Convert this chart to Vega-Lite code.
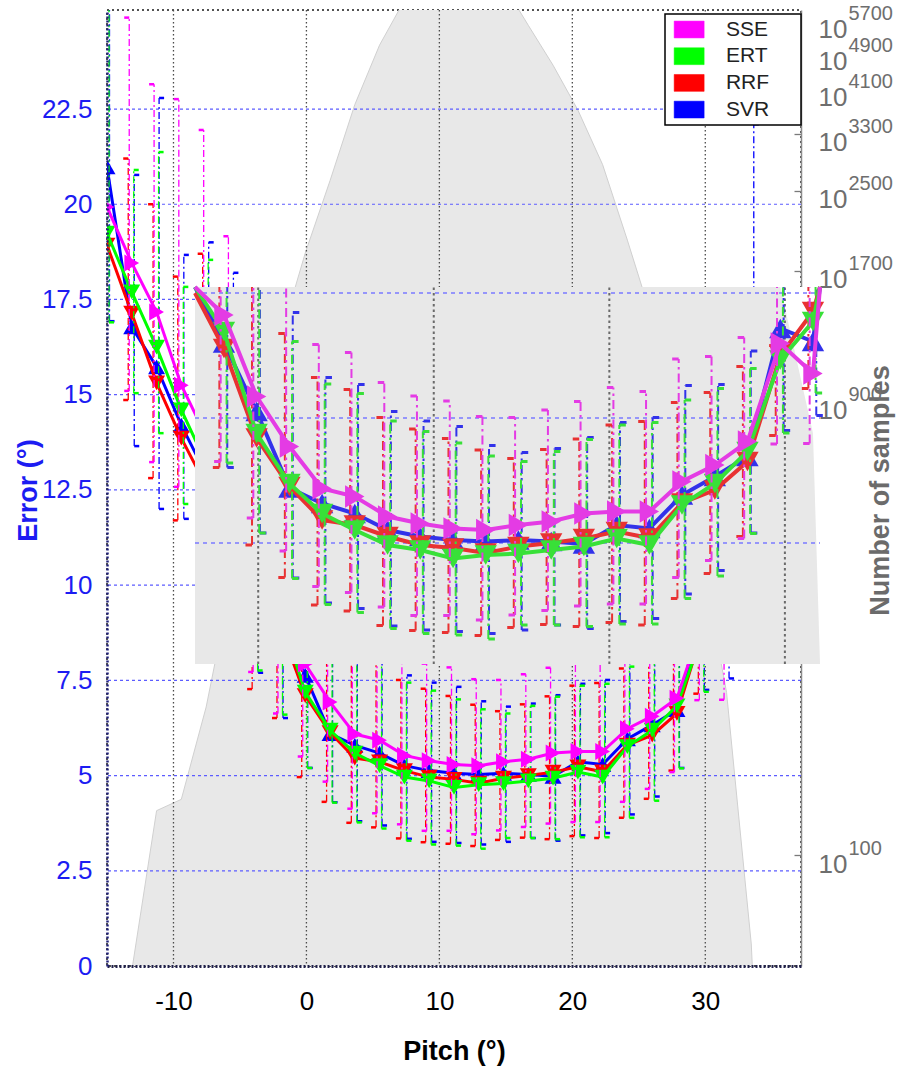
{
  "$schema": "https://vega.github.io/schema/vega-lite/v6.json",
  "width": 694,
  "height": 956,
  "autosize": {"type": "none"},
  "padding": {"left": 107, "top": 10, "right": 105, "bottom": 102},
  "background": "#ffffff",
  "config": {
    "font": "Liberation Sans",
    "view": {"stroke": "#1a1a1a", "strokeDash": [2, 3], "strokeWidth": 1.5},
    "axis": {"grid": false, "labelFont": "Liberation Sans", "titleFont": "Liberation Sans", "labelFlush": false, "labelOverlap": false},
    "axisLeft": {"labelColor": "#1c1cf2", "labelFontSize": 26, "labelPadding": 15, "ticks": false, "domainColor": "#20207a", "domainDash": [2, 2], "domainWidth": 2.5, "titleColor": "#1c1cf2", "titleFontSize": 27, "titleFontWeight": "bold", "titleX": -79, "titleY": 480, "titleAlign": "center", "titleBaseline": "middle", "titleAngle": 270},
    "axisBottom": {"labelColor": "#000000", "labelFontSize": 26, "labelPadding": 22, "ticks": false, "domainColor": "#20204a", "domainDash": [2, 2], "domainWidth": 3, "titleColor": "#000000", "titleFontSize": 27, "titleFontWeight": "bold", "titleY": 85, "titleBaseline": "middle"},
    "axisRight": {"labelColor": "#6e6e6e", "labelFontSize": 26, "labelPadding": 24, "labelOffset": 9, "tickColor": "#7a7a7a", "tickSize": -7, "tickWidth": 1.3, "domainColor": "#8a8a8a", "domainWidth": 1.5, "titleColor": "#6b6b6b", "titleFontSize": 27, "titleFontWeight": "bold", "titleX": 79, "titleY": 480, "titleAlign": "center", "titleBaseline": "middle", "titleAngle": 270}
  },
  "datasets": {
    "gx": [{"p": -10}, {"p": 0}, {"p": 10}, {"p": 20}, {"p": 30}],
    "gy": [{"v": 2.5}, {"v": 5}, {"v": 7.5}, {"v": 10}, {"v": 12.5}, {"v": 15}, {"v": 17.5}, {"v": 20}, {"v": 22.5}],
    "igx": [{"p": 0}, {"p": 10}, {"p": 20}, {"p": 30}],
    "igy": [{"v": 5}, {"v": 7.5}, {"v": 10}],
    "hist": [
      {"p": -15, "n": 10}, {"p": -13.14, "n": 57}, {"p": -11.27, "n": 124}, {"p": -9.41, "n": 131},
      {"p": -7.54, "n": 205}, {"p": -5.68, "n": 373}, {"p": -3.82, "n": 676}, {"p": -1.95, "n": 1230},
      {"p": -0.09, "n": 1850}, {"p": 1.78, "n": 2630}, {"p": 3.64, "n": 3800}, {"p": 5.5, "n": 5070},
      {"p": 7.37, "n": 6300}, {"p": 9.23, "n": 9000}, {"p": 11.1, "n": 10500}, {"p": 12.96, "n": 10000},
      {"p": 14.82, "n": 6800}, {"p": 16.69, "n": 5580}, {"p": 18.55, "n": 4600}, {"p": 20.42, "n": 3700},
      {"p": 22.28, "n": 2840}, {"p": 24.14, "n": 1970}, {"p": 26.01, "n": 1340}, {"p": 27.87, "n": 750},
      {"p": 29.74, "n": 420}, {"p": 31.6, "n": 220}, {"p": 33.46, "n": 65}, {"p": 35.33, "n": 5}, {"p": 37.19, "n": 2}
    ],
    "err": [
      {"m": "SSE", "p": -15, "v": 19.93, "lo": 16.5, "hi": 26},
      {"m": "SSE", "p": -13.14, "v": 18.46, "lo": 15.1, "hi": 24.9},
      {"m": "SSE", "p": -11.27, "v": 17.17, "lo": 13.23, "hi": 23.15},
      {"m": "SSE", "p": -9.41, "v": 15.25, "lo": 12.58, "hi": 22.76},
      {"m": "SSE", "p": -7.54, "v": 13.9, "lo": 11, "hi": 21.95},
      {"m": "SSE", "p": -5.68, "v": 12.5, "lo": 9.5, "hi": 19.16},
      {"m": "SSE", "p": -3.82, "v": 11, "lo": 7.72, "hi": 16},
      {"m": "SSE", "p": -1.95, "v": 9.56, "lo": 6.63, "hi": 13.5},
      {"m": "SSE", "p": -0.09, "v": 7.93, "lo": 5.5, "hi": 11.4},
      {"m": "SSE", "p": 1.78, "v": 6.93, "lo": 4.84, "hi": 10.6},
      {"m": "SSE", "p": 3.64, "v": 6.09, "lo": 4.13, "hi": 8.97},
      {"m": "SSE", "p": 5.5, "v": 5.93, "lo": 4.01, "hi": 8.81},
      {"m": "SSE", "p": 7.37, "v": 5.53, "lo": 3.72, "hi": 8.21},
      {"m": "SSE", "p": 9.23, "v": 5.39, "lo": 3.55, "hi": 7.94},
      {"m": "SSE", "p": 11.1, "v": 5.29, "lo": 3.55, "hi": 7.84},
      {"m": "SSE", "p": 12.96, "v": 5.26, "lo": 3.46, "hi": 7.53},
      {"m": "SSE", "p": 14.82, "v": 5.36, "lo": 3.56, "hi": 7.51},
      {"m": "SSE", "p": 16.69, "v": 5.43, "lo": 3.65, "hi": 7.66},
      {"m": "SSE", "p": 18.55, "v": 5.59, "lo": 3.74, "hi": 7.83},
      {"m": "SSE", "p": 20.42, "v": 5.63, "lo": 3.78, "hi": 8.11},
      {"m": "SSE", "p": 22.28, "v": 5.63, "lo": 3.78, "hi": 8.03},
      {"m": "SSE", "p": 24.14, "v": 6.23, "lo": 4.31, "hi": 8.68},
      {"m": "SSE", "p": 26.01, "v": 6.56, "lo": 4.65, "hi": 8.73},
      {"m": "SSE", "p": 27.87, "v": 7.03, "lo": 5.09, "hi": 9.11},
      {"m": "SSE", "p": 29.74, "v": 8.99, "lo": 6.98, "hi": 11.5},
      {"m": "SSE", "p": 31.6, "v": 8.39, "lo": 6.99, "hi": 11},
      {"m": "SSE", "p": 33.46, "v": 10.5, "lo": 8.2, "hi": 14.5},
      {"m": "SSE", "p": 35.33, "v": 11.8, "lo": 8.8, "hi": 16},
      {"m": "SSE", "p": 37.19, "v": 12.8, "lo": 9.5, "hi": 17},
      {"m": "ERT", "p": -15, "v": 19.24, "lo": 16.9, "hi": 26},
      {"m": "ERT", "p": -13.14, "v": 17.7, "lo": 15.04, "hi": 20.9},
      {"m": "ERT", "p": -11.27, "v": 16.25, "lo": 13.99, "hi": 21.37},
      {"m": "ERT", "p": -9.41, "v": 14.6, "lo": 12.13, "hi": 17.83},
      {"m": "ERT", "p": -7.54, "v": 13.2, "lo": 10.8, "hi": 18.54},
      {"m": "ERT", "p": -5.68, "v": 11.8, "lo": 9, "hi": 16.8},
      {"m": "ERT", "p": -3.82, "v": 10.5, "lo": 7.76, "hi": 15},
      {"m": "ERT", "p": -1.95, "v": 9.23, "lo": 6.6, "hi": 12.8},
      {"m": "ERT", "p": -0.09, "v": 7.19, "lo": 5.2, "hi": 10.8},
      {"m": "ERT", "p": 1.78, "v": 6.19, "lo": 4.29, "hi": 9.03},
      {"m": "ERT", "p": 3.64, "v": 5.59, "lo": 3.77, "hi": 8.18},
      {"m": "ERT", "p": 5.5, "v": 5.26, "lo": 3.61, "hi": 7.99},
      {"m": "ERT", "p": 7.37, "v": 4.96, "lo": 3.29, "hi": 7.44},
      {"m": "ERT", "p": 9.23, "v": 4.86, "lo": 3.19, "hi": 7.23},
      {"m": "ERT", "p": 11.1, "v": 4.69, "lo": 3.16, "hi": 7},
      {"m": "ERT", "p": 12.96, "v": 4.76, "lo": 3.08, "hi": 6.74},
      {"m": "ERT", "p": 14.82, "v": 4.79, "lo": 3.36, "hi": 6.63},
      {"m": "ERT", "p": 16.69, "v": 4.86, "lo": 3.36, "hi": 6.83},
      {"m": "ERT", "p": 18.55, "v": 4.93, "lo": 3.33, "hi": 7.07},
      {"m": "ERT", "p": 20.42, "v": 5.09, "lo": 3.38, "hi": 7.36},
      {"m": "ERT", "p": 22.28, "v": 4.96, "lo": 3.38, "hi": 7.41},
      {"m": "ERT", "p": 24.14, "v": 5.76, "lo": 3.89, "hi": 7.86},
      {"m": "ERT", "p": 26.01, "v": 6.19, "lo": 4.34, "hi": 8.09},
      {"m": "ERT", "p": 27.87, "v": 6.83, "lo": 5.19, "hi": 8.49},
      {"m": "ERT", "p": 29.74, "v": 8.66, "lo": 7.2, "hi": 11},
      {"m": "ERT", "p": 31.6, "v": 9.43, "lo": 8, "hi": 12},
      {"m": "ERT", "p": 33.46, "v": 11, "lo": 8.5, "hi": 15},
      {"m": "ERT", "p": 35.33, "v": 12.3, "lo": 9, "hi": 16.5},
      {"m": "ERT", "p": 37.19, "v": 13.5, "lo": 9.8, "hi": 17.2},
      {"m": "RRF", "p": -15, "v": 18.93, "lo": 16.5, "hi": 22},
      {"m": "RRF", "p": -13.14, "v": 17.14, "lo": 14.86, "hi": 21.2},
      {"m": "RRF", "p": -11.27, "v": 15.31, "lo": 12.81, "hi": 20},
      {"m": "RRF", "p": -9.41, "v": 13.86, "lo": 11.7, "hi": 18.1},
      {"m": "RRF", "p": -7.54, "v": 12.6, "lo": 10.3, "hi": 18.7},
      {"m": "RRF", "p": -5.68, "v": 11.3, "lo": 8.8, "hi": 16.5},
      {"m": "RRF", "p": -3.82, "v": 10, "lo": 7.27, "hi": 14.5},
      {"m": "RRF", "p": -1.95, "v": 8.89, "lo": 6.51, "hi": 12.5},
      {"m": "RRF", "p": -0.09, "v": 7.1, "lo": 4.96, "hi": 10.5},
      {"m": "RRF", "p": 1.78, "v": 6.13, "lo": 4.31, "hi": 9.19},
      {"m": "RRF", "p": 3.64, "v": 5.46, "lo": 3.76, "hi": 8.31},
      {"m": "RRF", "p": 5.5, "v": 5.36, "lo": 3.64, "hi": 8.07},
      {"m": "RRF", "p": 7.37, "v": 5.13, "lo": 3.35, "hi": 7.51},
      {"m": "RRF", "p": 9.23, "v": 4.96, "lo": 3.25, "hi": 7.28},
      {"m": "RRF", "p": 11.1, "v": 4.9, "lo": 3.21, "hi": 7.09},
      {"m": "RRF", "p": 12.96, "v": 4.8, "lo": 3.15, "hi": 6.86},
      {"m": "RRF", "p": 14.82, "v": 4.93, "lo": 3.31, "hi": 6.69},
      {"m": "RRF", "p": 16.69, "v": 5, "lo": 3.37, "hi": 6.87},
      {"m": "RRF", "p": 18.55, "v": 5.09, "lo": 3.33, "hi": 7.08},
      {"m": "RRF", "p": 20.42, "v": 5.23, "lo": 3.41, "hi": 7.36},
      {"m": "RRF", "p": 22.28, "v": 5.1, "lo": 3.36, "hi": 7.43},
      {"m": "RRF", "p": 24.14, "v": 5.8, "lo": 3.89, "hi": 7.81},
      {"m": "RRF", "p": 26.01, "v": 6.06, "lo": 4.39, "hi": 8.01},
      {"m": "RRF", "p": 27.87, "v": 6.63, "lo": 5.13, "hi": 8.53},
      {"m": "RRF", "p": 29.74, "v": 8.75, "lo": 7.15, "hi": 8.95},
      {"m": "RRF", "p": 31.6, "v": 9.63, "lo": 8.09, "hi": 12},
      {"m": "RRF", "p": 33.46, "v": 11.5, "lo": 8.6, "hi": 15.5},
      {"m": "RRF", "p": 35.33, "v": 12.8, "lo": 9.2, "hi": 16.8},
      {"m": "RRF", "p": 37.19, "v": 13.9, "lo": 10, "hi": 17.5},
      {"m": "SVR", "p": -15, "v": 20.98, "lo": 16.93, "hi": 25.8},
      {"m": "SVR", "p": -13.14, "v": 16.78, "lo": 13.65, "hi": 20.77},
      {"m": "SVR", "p": -11.27, "v": 15.73, "lo": 12, "hi": 22.79},
      {"m": "SVR", "p": -9.41, "v": 14.2, "lo": 11.74, "hi": 18.67},
      {"m": "SVR", "p": -7.54, "v": 12.9, "lo": 10.3, "hi": 19},
      {"m": "SVR", "p": -5.68, "v": 11.5, "lo": 8.7, "hi": 18.2},
      {"m": "SVR", "p": -3.82, "v": 10.2, "lo": 7.7, "hi": 15.5},
      {"m": "SVR", "p": -1.95, "v": 9, "lo": 6.51, "hi": 12},
      {"m": "SVR", "p": -0.09, "v": 7.63, "lo": 5.2, "hi": 11},
      {"m": "SVR", "p": 1.78, "v": 6.1, "lo": 4.3, "hi": 9.61},
      {"m": "SVR", "p": 3.64, "v": 5.79, "lo": 3.8, "hi": 8.31},
      {"m": "SVR", "p": 5.5, "v": 5.59, "lo": 3.69, "hi": 8.17},
      {"m": "SVR", "p": 7.37, "v": 5.26, "lo": 3.34, "hi": 7.63},
      {"m": "SVR", "p": 9.23, "v": 5.13, "lo": 3.26, "hi": 7.44},
      {"m": "SVR", "p": 11.1, "v": 5.06, "lo": 3.23, "hi": 7.33},
      {"m": "SVR", "p": 12.96, "v": 5.03, "lo": 3.19, "hi": 6.95},
      {"m": "SVR", "p": 14.82, "v": 5.06, "lo": 3.26, "hi": 6.81},
      {"m": "SVR", "p": 16.69, "v": 5.03, "lo": 3.36, "hi": 6.89},
      {"m": "SVR", "p": 18.55, "v": 4.98, "lo": 3.29, "hi": 7.11},
      {"m": "SVR", "p": 20.42, "v": 5.36, "lo": 3.43, "hi": 7.41},
      {"m": "SVR", "p": 22.28, "v": 5.29, "lo": 3.49, "hi": 7.51},
      {"m": "SVR", "p": 24.14, "v": 5.96, "lo": 3.98, "hi": 8.15},
      {"m": "SVR", "p": 26.01, "v": 6.33, "lo": 4.45, "hi": 8.17},
      {"m": "SVR", "p": 27.87, "v": 6.73, "lo": 5.2, "hi": 8.84},
      {"m": "SVR", "p": 29.74, "v": 9.29, "lo": 7.25, "hi": 11.8},
      {"m": "SVR", "p": 31.6, "v": 9.03, "lo": 7.55, "hi": 11.5},
      {"m": "SVR", "p": 33.46, "v": 12, "lo": 9, "hi": 22.1},
      {"m": "SVR", "p": 35.33, "v": 12.5, "lo": 9.3, "hi": 16.5},
      {"m": "SVR", "p": 37.19, "v": 13.2, "lo": 9.8, "hi": 17}
    ]
  },
  "layer": [
    {
      "resolve": {"scale": {"y": "independent"}},
      "layer": [
        {
          "data": {"name": "hist"},
          "mark": {"type": "area", "color": "#e8e8e8", "clip": true},
          "encoding": {
            "x": {"field": "p", "type": "quantitative", "scale": {"domain": [-15, 37.2], "nice": false, "zero": false}, "title": "Pitch (°)"},
            "y": {"field": "n", "type": "quantitative", "scale": {"type": "log", "domain": [58.4, 6011], "nice": false}, "title": "Number of samples",
              "axis": {"orient": "right", "values": [100, 900, 1700, 2500, 3300, 4100, 4900, 5700], "labelExpr": "'10'"}},
            "y2": {"datum": 1}
          }
        },
        {
          "data": {"name": "hist"},
          "mark": {"type": "line", "color": "#d0d0d0", "strokeWidth": 1, "clip": true},
          "encoding": {
            "x": {"field": "p", "type": "quantitative", "scale": {"domain": [-15, 37.2], "nice": false, "zero": false}, "title": "Pitch (°)"},
            "y": {"field": "n", "type": "quantitative", "scale": {"type": "log", "domain": [58.4, 6011], "nice": false}, "title": null,
              "axis": {"orient": "right", "values": [100, 900, 1700, 2500, 3300, 4100, 4900, 5700], "labelExpr": "'' + datum.value",
                "domain": false, "ticks": false, "labelPadding": 47, "labelFontSize": 20, "labelOffset": -7}}
          }
        },
        {
          "layer": [
            {
              "data": {"name": "gx"},
              "mark": {"type": "rule", "color": "#4a4a4a", "strokeDash": [1.5, 2.5], "strokeWidth": 1.3},
              "encoding": {
                "x": {"field": "p", "type": "quantitative", "scale": {"domain": [-15, 37.2], "nice": false, "zero": false}, "title": "Pitch (°)",
                  "axis": {"values": [-10, 0, 10, 20, 30], "zindex": 1, "labelExpr": "'' + datum.value"}}
              }
            },
            {
              "data": {"name": "gy"},
              "mark": {"type": "rule", "color": "#5c5cff", "strokeDash": [3, 3], "strokeWidth": 1.2},
              "encoding": {
                "y": {"field": "v", "type": "quantitative", "scale": {"domain": [0, 25.1], "nice": false, "zero": false}, "title": "Error (°)",
                  "axis": {"values": [0, 2.5, 5, 7.5, 10, 12.5, 15, 17.5, 20, 22.5], "zindex": 1, "labelExpr": "'' + datum.value"}}
              }
            },
            {
              "data": {"name": "err"},
              "transform": [{"filter": {"field": "m", "equal": "SVR"}}],
              "encoding": {"x": {"field": "p", "type": "quantitative", "scale": {"domain": [-15, 37.2], "nice": false, "zero": false}, "title": "Pitch (°)"}},
              "layer": [
                {"mark": {"type": "rule", "color": "#0000ff", "strokeWidth": 1.3, "strokeDash": [7, 3, 2, 3], "xOffset": 2.5, "clip": true},
                 "encoding": {"y": {"field": "lo", "type": "quantitative", "scale": {"domain": [0, 25.1], "nice": false, "zero": false}, "title": "Error (°)"}, "y2": {"field": "hi"}}},
                {"mark": {"type": "tick", "orient": "horizontal", "color": "#0000ff", "size": 5, "thickness": 2.5, "opacity": 1, "xOffset": 5, "clip": true},
                 "encoding": {"y": {"field": "hi", "type": "quantitative", "scale": {"domain": [0, 25.1], "nice": false, "zero": false}, "title": "Error (°)"}}},
                {"mark": {"type": "tick", "orient": "horizontal", "color": "#0000ff", "size": 5, "thickness": 2.5, "opacity": 1, "xOffset": 5, "clip": true},
                 "encoding": {"y": {"field": "lo", "type": "quantitative", "scale": {"domain": [0, 25.1], "nice": false, "zero": false}, "title": "Error (°)"}}},
                {"mark": {"type": "line", "strokeWidth": 3, "clip": true},
                 "encoding": {"y": {"field": "v", "type": "quantitative", "scale": {"domain": [0, 25.1], "nice": false, "zero": false}, "title": "Error (°)"},
                   "color": {"field": "m", "type": "nominal", "scale": {"domain": ["SSE", "ERT", "RRF", "SVR"], "range": ["#ff00ff", "#00ff00", "#ff0000", "#0000ff"]},
                     "legend": {"title": ".", "titleOrient": "right", "titlePadding": 25, "titleFontSize": 6, "titleColor": "#ffffff",
                       "orient": "none", "legendX": 558, "legendY": 4, "direction": "vertical",
                       "symbolType": "M-1.6,-0.9H1.6V0.9H-1.6Z", "symbolSize": 351, "symbolOffset": 8.65, "labelOffset": 26.3,
                       "padding": 5, "rowPadding": 4.7, "labelFont": "Liberation Sans", "labelFontSize": 21, "labelColor": "#222222",
                       "strokeColor": "#000000", "fillColor": "#ffffff", "zindex": 1,
                       "encode": {"symbols": {"update": {"fill": {"scale": "color", "field": "value"}, "stroke": {"scale": "color", "field": "value"}, "fillOpacity": {"value": 1}, "opacity": {"value": 1}, "strokeWidth": {"value": 0.5}}},
                                  "legend": {"update": {"strokeWidth": {"value": 1.5}}}}}}}},
                {"mark": {"type": "point", "shape": "triangle-up", "filled": true, "size": 290, "opacity": 1, "clip": true},
                 "encoding": {"y": {"field": "v", "type": "quantitative", "scale": {"domain": [0, 25.1], "nice": false, "zero": false}, "title": "Error (°)"},
                   "color": {"field": "m", "type": "nominal", "scale": {"domain": ["SSE", "ERT", "RRF", "SVR"], "range": ["#ff00ff", "#00ff00", "#ff0000", "#0000ff"]}}}}
              ]
            },
            {
              "data": {"name": "err"},
              "transform": [{"filter": {"field": "m", "equal": "RRF"}}],
              "encoding": {"x": {"field": "p", "type": "quantitative", "scale": {"domain": [-15, 37.2], "nice": false, "zero": false}, "title": "Pitch (°)"}},
              "layer": [
                {"mark": {"type": "rule", "color": "#ff0000", "strokeWidth": 1.3, "strokeDash": [7, 3, 2, 3], "xOffset": -3.5, "clip": true},
                 "encoding": {"y": {"field": "lo", "type": "quantitative", "scale": {"domain": [0, 25.1], "nice": false, "zero": false}, "title": "Error (°)"}, "y2": {"field": "hi"}}},
                {"mark": {"type": "tick", "orient": "horizontal", "color": "#ff0000", "size": 5, "thickness": 2.5, "opacity": 1, "xOffset": -6, "clip": true},
                 "encoding": {"y": {"field": "hi", "type": "quantitative", "scale": {"domain": [0, 25.1], "nice": false, "zero": false}, "title": "Error (°)"}}},
                {"mark": {"type": "tick", "orient": "horizontal", "color": "#ff0000", "size": 5, "thickness": 2.5, "opacity": 1, "xOffset": -6, "clip": true},
                 "encoding": {"y": {"field": "lo", "type": "quantitative", "scale": {"domain": [0, 25.1], "nice": false, "zero": false}, "title": "Error (°)"}}},
                {"mark": {"type": "line", "strokeWidth": 3, "clip": true},
                 "encoding": {"y": {"field": "v", "type": "quantitative", "scale": {"domain": [0, 25.1], "nice": false, "zero": false}, "title": "Error (°)"},
                   "color": {"field": "m", "type": "nominal", "scale": {"domain": ["SSE", "ERT", "RRF", "SVR"], "range": ["#ff00ff", "#00ff00", "#ff0000", "#0000ff"]}}}},
                {"mark": {"type": "point", "shape": "triangle-down", "filled": true, "size": 290, "opacity": 1, "clip": true},
                 "encoding": {"y": {"field": "v", "type": "quantitative", "scale": {"domain": [0, 25.1], "nice": false, "zero": false}, "title": "Error (°)"},
                   "color": {"field": "m", "type": "nominal", "scale": {"domain": ["SSE", "ERT", "RRF", "SVR"], "range": ["#ff00ff", "#00ff00", "#ff0000", "#0000ff"]}}}}
              ]
            },
            {
              "data": {"name": "err"},
              "transform": [{"filter": {"field": "m", "equal": "ERT"}}],
              "encoding": {"x": {"field": "p", "type": "quantitative", "scale": {"domain": [-15, 37.2], "nice": false, "zero": false}, "title": "Pitch (°)"}},
              "layer": [
                {"mark": {"type": "rule", "color": "#00ff00", "strokeWidth": 1.3, "strokeDash": [7, 3, 2, 3], "xOffset": 2, "clip": true},
                 "encoding": {"y": {"field": "lo", "type": "quantitative", "scale": {"domain": [0, 25.1], "nice": false, "zero": false}, "title": "Error (°)"}, "y2": {"field": "hi"}}},
                {"mark": {"type": "tick", "orient": "horizontal", "color": "#00ff00", "size": 5, "thickness": 2.5, "opacity": 1, "xOffset": 4.5, "clip": true},
                 "encoding": {"y": {"field": "hi", "type": "quantitative", "scale": {"domain": [0, 25.1], "nice": false, "zero": false}, "title": "Error (°)"}}},
                {"mark": {"type": "tick", "orient": "horizontal", "color": "#00ff00", "size": 5, "thickness": 2.5, "opacity": 1, "xOffset": 4.5, "clip": true},
                 "encoding": {"y": {"field": "lo", "type": "quantitative", "scale": {"domain": [0, 25.1], "nice": false, "zero": false}, "title": "Error (°)"}}},
                {"mark": {"type": "line", "strokeWidth": 3, "clip": true},
                 "encoding": {"y": {"field": "v", "type": "quantitative", "scale": {"domain": [0, 25.1], "nice": false, "zero": false}, "title": "Error (°)"},
                   "color": {"field": "m", "type": "nominal", "scale": {"domain": ["SSE", "ERT", "RRF", "SVR"], "range": ["#ff00ff", "#00ff00", "#ff0000", "#0000ff"]}}}},
                {"mark": {"type": "point", "shape": "triangle-down", "filled": true, "size": 290, "opacity": 1, "clip": true},
                 "encoding": {"y": {"field": "v", "type": "quantitative", "scale": {"domain": [0, 25.1], "nice": false, "zero": false}, "title": "Error (°)"},
                   "color": {"field": "m", "type": "nominal", "scale": {"domain": ["SSE", "ERT", "RRF", "SVR"], "range": ["#ff00ff", "#00ff00", "#ff0000", "#0000ff"]}}}}
              ]
            },
            {
              "data": {"name": "err"},
              "transform": [{"filter": {"field": "m", "equal": "SSE"}}],
              "encoding": {"x": {"field": "p", "type": "quantitative", "scale": {"domain": [-15, 37.2], "nice": false, "zero": false}, "title": "Pitch (°)"}},
              "layer": [
                {"mark": {"type": "rule", "color": "#ff00ff", "strokeWidth": 1.3, "strokeDash": [7, 3, 2, 3], "xOffset": -2.5, "clip": true},
                 "encoding": {"y": {"field": "lo", "type": "quantitative", "scale": {"domain": [0, 25.1], "nice": false, "zero": false}, "title": "Error (°)"}, "y2": {"field": "hi"}}},
                {"mark": {"type": "tick", "orient": "horizontal", "color": "#ff00ff", "size": 5, "thickness": 2.5, "opacity": 1, "xOffset": -5, "clip": true},
                 "encoding": {"y": {"field": "hi", "type": "quantitative", "scale": {"domain": [0, 25.1], "nice": false, "zero": false}, "title": "Error (°)"}}},
                {"mark": {"type": "tick", "orient": "horizontal", "color": "#ff00ff", "size": 5, "thickness": 2.5, "opacity": 1, "xOffset": -5, "clip": true},
                 "encoding": {"y": {"field": "lo", "type": "quantitative", "scale": {"domain": [0, 25.1], "nice": false, "zero": false}, "title": "Error (°)"}}},
                {"mark": {"type": "line", "strokeWidth": 3, "clip": true},
                 "encoding": {"y": {"field": "v", "type": "quantitative", "scale": {"domain": [0, 25.1], "nice": false, "zero": false}, "title": "Error (°)"},
                   "color": {"field": "m", "type": "nominal", "scale": {"domain": ["SSE", "ERT", "RRF", "SVR"], "range": ["#ff00ff", "#00ff00", "#ff0000", "#0000ff"]}}}},
                {"mark": {"type": "point", "shape": "triangle-right", "filled": true, "size": 290, "opacity": 1, "clip": true},
                 "encoding": {"y": {"field": "v", "type": "quantitative", "scale": {"domain": [0, 25.1], "nice": false, "zero": false}, "title": "Error (°)"},
                   "color": {"field": "m", "type": "nominal", "scale": {"domain": ["SSE", "ERT", "RRF", "SVR"], "range": ["#ff00ff", "#00ff00", "#ff0000", "#0000ff"]}}}}
              ]
            }
          ]
        }
      ]
    },
    {
      "resolve": {"scale": {"y": "independent"}},
      "layer": [
        {
          "data": {"values": [{}]},
          "mark": {"type": "rect", "color": "#ffffff"},
          "encoding": {
            "x": {"datum": -3.6, "type": "quantitative", "scale": {"domain": [-3.6, 32], "range": [88, 713], "nice": false, "zero": false, "clamp": true}, "axis": null},
            "x2": {"datum": 32},
            "y": {"datum": 2.58, "type": "quantitative", "scale": {"domain": [2.58, 10.12], "range": [654, 277], "nice": false, "zero": false, "clamp": true}, "axis": null},
            "y2": {"datum": 10.12}
          }
        },
        {
          "data": {"name": "hist"},
          "transform": [{"filter": {"field": "p", "range": [-6, 34]}}],
          "mark": {"type": "area", "color": "#e8e8e8"},
          "encoding": {
            "x": {"field": "p", "type": "quantitative", "scale": {"domain": [-3.6, 32], "range": [88, 713], "nice": false, "zero": false, "clamp": true}, "axis": null},
            "y": {"field": "n", "type": "quantitative", "scale": {"type": "log", "domain": [94.1, 377], "range": [654, 277], "nice": false, "clamp": true}, "axis": null},
            "y2": {"datum": 1}
          }
        },
        {
          "data": {"name": "igx"},
          "mark": {"type": "rule", "color": "#6a6a6a", "strokeDash": [2.5, 3], "strokeWidth": 2},
          "encoding": {
            "x": {"field": "p", "type": "quantitative", "scale": {"domain": [-3.6, 32], "range": [88, 713], "nice": false, "zero": false, "clamp": true}, "axis": null},
            "y": {"datum": 2.58, "type": "quantitative", "scale": {"domain": [2.58, 10.12], "range": [654, 277], "nice": false, "zero": false, "clamp": true}, "axis": null},
            "y2": {"datum": 10.12}
          }
        },
        {
          "data": {"name": "igy"},
          "mark": {"type": "rule", "color": "#7a7aff", "strokeDash": [4, 4], "strokeWidth": 1.6},
          "encoding": {
            "x": {"datum": -3.6, "type": "quantitative", "scale": {"domain": [-3.6, 32], "range": [88, 713], "nice": false, "zero": false, "clamp": true}, "axis": null},
            "x2": {"datum": 32},
            "y": {"field": "v", "type": "quantitative", "scale": {"domain": [2.58, 10.12], "range": [654, 277], "nice": false, "zero": false, "clamp": true}, "axis": null}
          }
        },
        {
          "data": {"name": "err"},
          "transform": [{"filter": {"field": "m", "equal": "SVR"}}, {"filter": {"field": "p", "range": [-4, 34]}}],
          "encoding": {"x": {"field": "p", "type": "quantitative", "scale": {"domain": [-3.6, 32], "range": [88, 713], "nice": false, "zero": false, "clamp": true}, "axis": null}},
          "layer": [
            {"transform": [{"filter": {"field": "p", "range": [-2.5, 32]}}],
             "mark": {"type": "rule", "color": "#3232ea", "strokeWidth": 2, "strokeDash": [9, 4, 2.5, 4], "xOffset": 3.3},
             "encoding": {"y": {"field": "lo", "type": "quantitative", "scale": {"domain": [2.58, 10.12], "range": [654, 277], "nice": false, "zero": false, "clamp": true}, "axis": null}, "y2": {"field": "hi"}}},
            {"transform": [{"filter": {"field": "p", "range": [-2.5, 32]}}, {"filter": "datum.hi <= 10.1"}],
             "mark": {"type": "tick", "orient": "horizontal", "color": "#3232ea", "size": 6.5, "thickness": 3, "opacity": 1, "xOffset": 6.6},
             "encoding": {"y": {"field": "hi", "type": "quantitative", "scale": {"domain": [2.58, 10.12], "range": [654, 277], "nice": false, "zero": false, "clamp": true}, "axis": null}}},
            {"transform": [{"filter": {"field": "p", "range": [-2.5, 32]}}, {"filter": "datum.lo >= 2.6"}],
             "mark": {"type": "tick", "orient": "horizontal", "color": "#3232ea", "size": 6.5, "thickness": 3, "opacity": 1, "xOffset": 6.6},
             "encoding": {"y": {"field": "lo", "type": "quantitative", "scale": {"domain": [2.58, 10.12], "range": [654, 277], "nice": false, "zero": false, "clamp": true}, "axis": null}}},
            {"mark": {"type": "line", "color": "#3232ea", "strokeWidth": 4},
             "encoding": {"y": {"field": "v", "type": "quantitative", "scale": {"domain": [2.58, 10.12], "range": [654, 277], "nice": false, "zero": false, "clamp": true}, "axis": null}}},
            {"transform": [{"filter": {"field": "p", "range": [-2.5, 32]}}],
             "mark": {"type": "point", "shape": "triangle-up", "filled": true, "size": 500, "opacity": 1, "color": "#3232ea"},
             "encoding": {"y": {"field": "v", "type": "quantitative", "scale": {"domain": [2.58, 10.12], "range": [654, 277], "nice": false, "zero": false, "clamp": true}, "axis": null}}}
          ]
        },
        {
          "data": {"name": "err"},
          "transform": [{"filter": {"field": "m", "equal": "RRF"}}, {"filter": {"field": "p", "range": [-4, 34]}}],
          "encoding": {"x": {"field": "p", "type": "quantitative", "scale": {"domain": [-3.6, 32], "range": [88, 713], "nice": false, "zero": false, "clamp": true}, "axis": null}},
          "layer": [
            {"transform": [{"filter": {"field": "p", "range": [-2.5, 32]}}],
             "mark": {"type": "rule", "color": "#e83232", "strokeWidth": 2, "strokeDash": [9, 4, 2.5, 4], "xOffset": -4.6},
             "encoding": {"y": {"field": "lo", "type": "quantitative", "scale": {"domain": [2.58, 10.12], "range": [654, 277], "nice": false, "zero": false, "clamp": true}, "axis": null}, "y2": {"field": "hi"}}},
            {"transform": [{"filter": {"field": "p", "range": [-2.5, 32]}}, {"filter": "datum.hi <= 10.1"}],
             "mark": {"type": "tick", "orient": "horizontal", "color": "#e83232", "size": 6.5, "thickness": 3, "opacity": 1, "xOffset": -7.9},
             "encoding": {"y": {"field": "hi", "type": "quantitative", "scale": {"domain": [2.58, 10.12], "range": [654, 277], "nice": false, "zero": false, "clamp": true}, "axis": null}}},
            {"transform": [{"filter": {"field": "p", "range": [-2.5, 32]}}, {"filter": "datum.lo >= 2.6"}],
             "mark": {"type": "tick", "orient": "horizontal", "color": "#e83232", "size": 6.5, "thickness": 3, "opacity": 1, "xOffset": -7.9},
             "encoding": {"y": {"field": "lo", "type": "quantitative", "scale": {"domain": [2.58, 10.12], "range": [654, 277], "nice": false, "zero": false, "clamp": true}, "axis": null}}},
            {"mark": {"type": "line", "color": "#e83232", "strokeWidth": 4},
             "encoding": {"y": {"field": "v", "type": "quantitative", "scale": {"domain": [2.58, 10.12], "range": [654, 277], "nice": false, "zero": false, "clamp": true}, "axis": null}}},
            {"transform": [{"filter": {"field": "p", "range": [-2.5, 32]}}],
             "mark": {"type": "point", "shape": "triangle-down", "filled": true, "size": 500, "opacity": 1, "color": "#e83232"},
             "encoding": {"y": {"field": "v", "type": "quantitative", "scale": {"domain": [2.58, 10.12], "range": [654, 277], "nice": false, "zero": false, "clamp": true}, "axis": null}}}
          ]
        },
        {
          "data": {"name": "err"},
          "transform": [{"filter": {"field": "m", "equal": "ERT"}}, {"filter": {"field": "p", "range": [-4, 34]}}],
          "encoding": {"x": {"field": "p", "type": "quantitative", "scale": {"domain": [-3.6, 32], "range": [88, 713], "nice": false, "zero": false, "clamp": true}, "axis": null}},
          "layer": [
            {"transform": [{"filter": {"field": "p", "range": [-2.5, 32]}}],
             "mark": {"type": "rule", "color": "#38e038", "strokeWidth": 2, "strokeDash": [9, 4, 2.5, 4], "xOffset": 2.6},
             "encoding": {"y": {"field": "lo", "type": "quantitative", "scale": {"domain": [2.58, 10.12], "range": [654, 277], "nice": false, "zero": false, "clamp": true}, "axis": null}, "y2": {"field": "hi"}}},
            {"transform": [{"filter": {"field": "p", "range": [-2.5, 32]}}, {"filter": "datum.hi <= 10.1"}],
             "mark": {"type": "tick", "orient": "horizontal", "color": "#38e038", "size": 6.5, "thickness": 3, "opacity": 1, "xOffset": 5.9},
             "encoding": {"y": {"field": "hi", "type": "quantitative", "scale": {"domain": [2.58, 10.12], "range": [654, 277], "nice": false, "zero": false, "clamp": true}, "axis": null}}},
            {"transform": [{"filter": {"field": "p", "range": [-2.5, 32]}}, {"filter": "datum.lo >= 2.6"}],
             "mark": {"type": "tick", "orient": "horizontal", "color": "#38e038", "size": 6.5, "thickness": 3, "opacity": 1, "xOffset": 5.9},
             "encoding": {"y": {"field": "lo", "type": "quantitative", "scale": {"domain": [2.58, 10.12], "range": [654, 277], "nice": false, "zero": false, "clamp": true}, "axis": null}}},
            {"mark": {"type": "line", "color": "#38e038", "strokeWidth": 4},
             "encoding": {"y": {"field": "v", "type": "quantitative", "scale": {"domain": [2.58, 10.12], "range": [654, 277], "nice": false, "zero": false, "clamp": true}, "axis": null}}},
            {"transform": [{"filter": {"field": "p", "range": [-2.5, 32]}}],
             "mark": {"type": "point", "shape": "triangle-down", "filled": true, "size": 500, "opacity": 1, "color": "#38e038"},
             "encoding": {"y": {"field": "v", "type": "quantitative", "scale": {"domain": [2.58, 10.12], "range": [654, 277], "nice": false, "zero": false, "clamp": true}, "axis": null}}}
          ]
        },
        {
          "data": {"name": "err"},
          "transform": [{"filter": {"field": "m", "equal": "SSE"}}, {"filter": {"field": "p", "range": [-4, 34]}}],
          "encoding": {"x": {"field": "p", "type": "quantitative", "scale": {"domain": [-3.6, 32], "range": [88, 713], "nice": false, "zero": false, "clamp": true}, "axis": null}},
          "layer": [
            {"transform": [{"filter": {"field": "p", "range": [-2.5, 32]}}],
             "mark": {"type": "rule", "color": "#e43be4", "strokeWidth": 2, "strokeDash": [9, 4, 2.5, 4], "xOffset": -3.3},
             "encoding": {"y": {"field": "lo", "type": "quantitative", "scale": {"domain": [2.58, 10.12], "range": [654, 277], "nice": false, "zero": false, "clamp": true}, "axis": null}, "y2": {"field": "hi"}}},
            {"transform": [{"filter": {"field": "p", "range": [-2.5, 32]}}, {"filter": "datum.hi <= 10.1"}],
             "mark": {"type": "tick", "orient": "horizontal", "color": "#e43be4", "size": 6.5, "thickness": 3, "opacity": 1, "xOffset": -6.6},
             "encoding": {"y": {"field": "hi", "type": "quantitative", "scale": {"domain": [2.58, 10.12], "range": [654, 277], "nice": false, "zero": false, "clamp": true}, "axis": null}}},
            {"transform": [{"filter": {"field": "p", "range": [-2.5, 32]}}, {"filter": "datum.lo >= 2.6"}],
             "mark": {"type": "tick", "orient": "horizontal", "color": "#e43be4", "size": 6.5, "thickness": 3, "opacity": 1, "xOffset": -6.6},
             "encoding": {"y": {"field": "lo", "type": "quantitative", "scale": {"domain": [2.58, 10.12], "range": [654, 277], "nice": false, "zero": false, "clamp": true}, "axis": null}}},
            {"mark": {"type": "line", "color": "#e43be4", "strokeWidth": 4},
             "encoding": {"y": {"field": "v", "type": "quantitative", "scale": {"domain": [2.58, 10.12], "range": [654, 277], "nice": false, "zero": false, "clamp": true}, "axis": null}}},
            {"transform": [{"filter": {"field": "p", "range": [-2.5, 32]}}],
             "mark": {"type": "point", "shape": "triangle-right", "filled": true, "size": 500, "opacity": 1, "color": "#e43be4"},
             "encoding": {"y": {"field": "v", "type": "quantitative", "scale": {"domain": [2.58, 10.12], "range": [654, 277], "nice": false, "zero": false, "clamp": true}, "axis": null}}}
          ]
        }
      ]
    }
  ],
  "resolve": {"scale": {"x": "independent", "y": "independent"}}
}
